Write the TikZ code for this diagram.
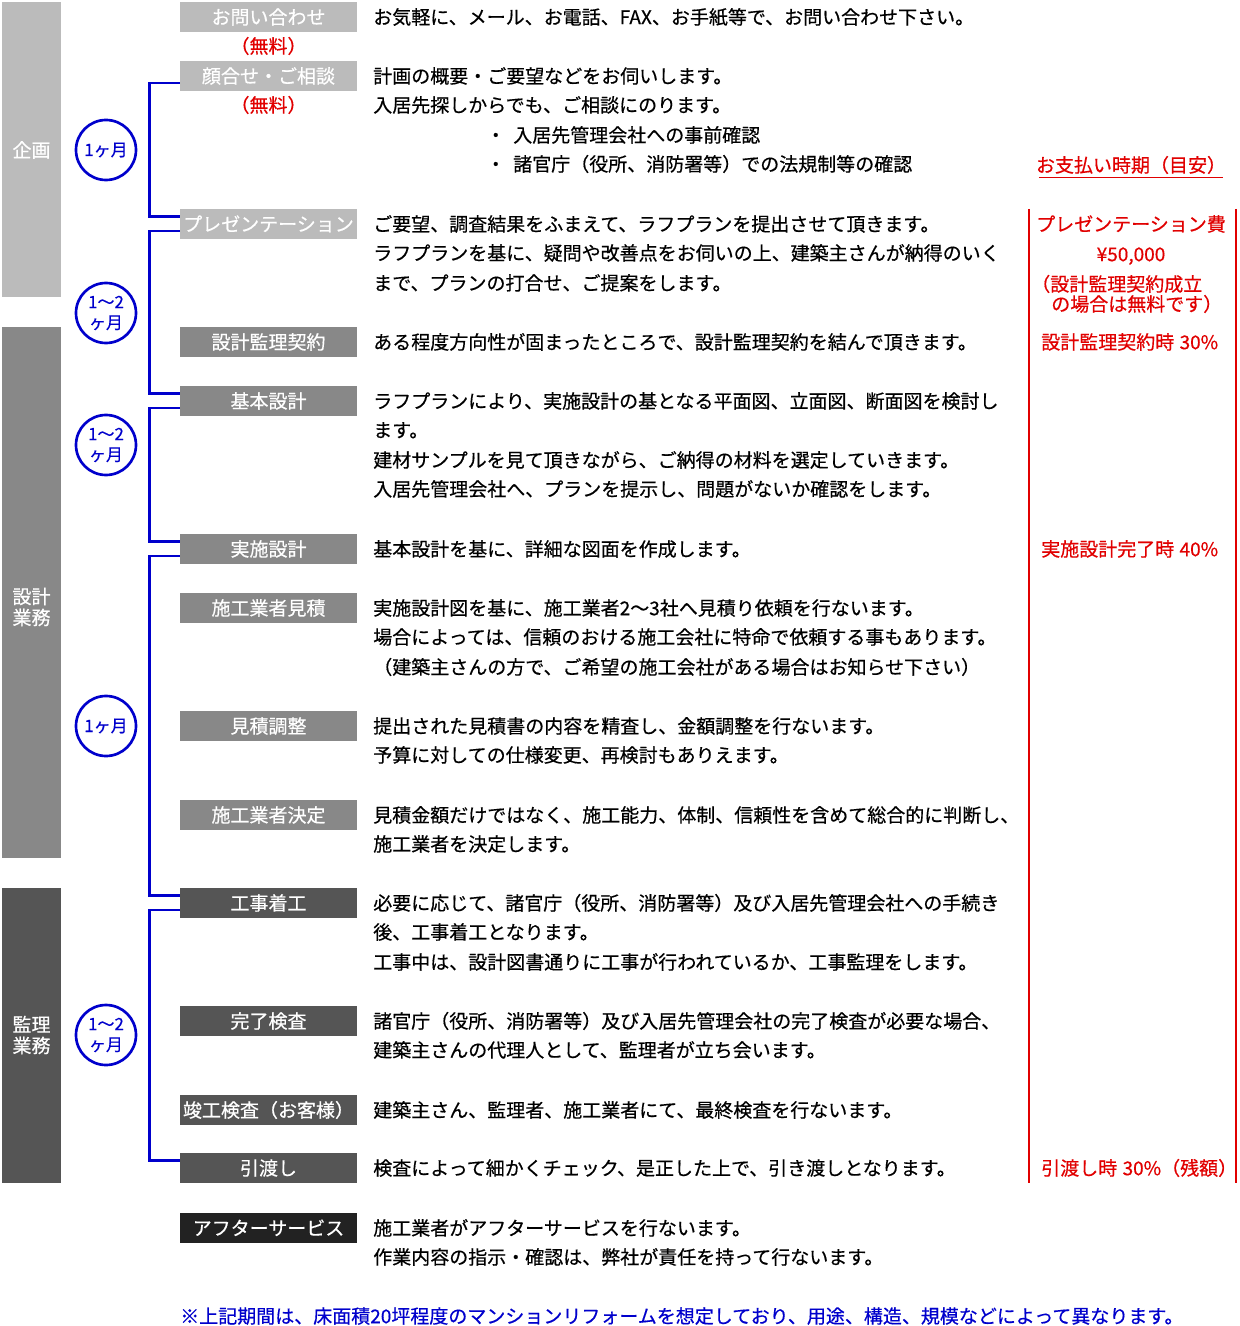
\documentclass[tikz,border=0pt]{standalone}
\usepackage{fontspec}
\setmainfont{Noto Sans CJK JP}[FakeBold=0.5]
\usetikzlibrary{calc}
\definecolor{flowblue}{RGB}{0,0,204}
\definecolor{payred}{RGB}{225,0,0}
\definecolor{greyA}{RGB}{187,187,187}
\definecolor{greyB}{RGB}{136,136,136}
\definecolor{greyC}{RGB}{85,85,85}
\definecolor{greyD}{RGB}{34,34,34}
\newcommand{\bodyfont}{\fontsize{14.25pt}{22pt}\selectfont}
\newcommand{\smallfont}{\fontsize{12.75pt}{15.5pt}\selectfont}

\begin{document}
\begin{tikzpicture}[x=0.75pt,y=-0.75pt,
    stepbox/.style={fill=#1,text=white,font=\bodyfont,minimum width=132.75pt,minimum height=22.5pt,inner sep=0pt,text height=11.7pt,text depth=0.9pt},
    phase/.style={fill=#1,minimum width=44.25pt,inner sep=0pt},
    phasetxt/.style={text=white,font=\fontsize{14.25pt}{15.75pt}\selectfont,align=center,inner sep=0pt},
    period/.style={circle,draw=flowblue,line width=2pt,text=flowblue,font=\smallfont,align=center,minimum size=45pt,inner sep=0pt},
    desc/.style={anchor=west,font=\bodyfont,inner sep=0pt,text height=11.7pt,text depth=0.9pt},
    pay/.style={desc,text=payred},
    bracket/.style={flowblue,line width=1.9pt},
    payline/.style={payred,line width=0.8pt}]
  \path[fill=white] (0,0) rectangle (1239,1326);
  % phases
  \node[phase=greyA,minimum height=221.25pt] (plan) at (31.5,149.5) {};
  \node[phase=greyB,minimum height=398.25pt] (design) at (31.5,592.5) {};
  \node[phase=greyC,minimum height=221.25pt] (super) at (31.5,1035.5) {};
  \node[phasetxt] (planT) at (31.5,150) {企画};
  \node[phasetxt] (designT) at (31.5,607) {設計\\業務};
  \node[phasetxt] (superT) at (31.5,1035) {監理\\業務};
  % periods
  \node[period] (m1) at (106,150) {1ヶ月};
  \node[period] (m2) at (106,313) {1〜2\\ヶ月};
  \node[period] (m3) at (106,445) {1〜2\\ヶ月};
  \node[period] (m4) at (106,726) {1ヶ月};
  \node[period] (m5) at (106,1035) {1〜2\\ヶ月};
  % steps
  \foreach \n/\y/\c/\t in {1/17/greyA/お問い合わせ, 2/76/greyA/顔合せ・ご相談, 3/224/greyA/プレゼンテーション,
      4/342/greyB/設計監理契約, 5/401/greyB/基本設計, 6/549/greyB/実施設計, 7/608/greyB/施工業者見積,
      8/726/greyB/見積調整, 9/815/greyB/施工業者決定, 10/903/greyC/工事着工, 11/1021/greyC/完了検査,
      12/1110/greyC/竣工検査（お客様）, 13/1168/greyC/引渡し, 14/1228/greyD/アフターサービス}
    \node[stepbox=\c] (s\n) at (268.5,\y) {\t};
  \node[pay,anchor=center] (free1) at (268.5,46) {（無料）};
  \node[pay,anchor=center] (free2) at (268.5,105) {（無料）};
  \foreach \a/\b in {2/3,3/5,5/6,6/10,10/13}
    \draw[bracket] ($(s\a.west)+(0,7)$) -- ++(-30,0) |- ($(s\b.west)+(0,-7.5)$);
  % descriptions
  \foreach \y/\t [count=\i] in {17/{お気軽に、メール、お電話、FAX、お手紙等で、お問い合わせ下さい。},
      76/{計画の概要・ご要望などをお伺いします。},
      105/{入居先探しからでも、ご相談にのります。},
      224/{ご要望、調査結果をふまえて、ラフプランを提出させて頂きます。},
      253/{ラフプランを基に、疑問や改善点をお伺いの上、建築主さんが納得のいく},
      283/{まで、プランの打合せ、ご提案をします。},
      342/{ある程度方向性が固まったところで、設計監理契約を結んで頂きます。},
      401/{ラフプランにより、実施設計の基となる平面図、立面図、断面図を検討し},
      430/{ます。},
      460/{建材サンプルを見て頂きながら、ご納得の材料を選定していきます。},
      489/{入居先管理会社へ、プランを提示し、問題がないか確認をします。},
      549/{基本設計を基に、詳細な図面を作成します。},
      608/{実施設計図を基に、施工業者2〜3社へ見積り依頼を行ないます。},
      637/{場合によっては、信頼のおける施工会社に特命で依頼する事もあります。},
      667/{（建築主さんの方で、ご希望の施工会社がある場合はお知らせ下さい）},
      726/{提出された見積書の内容を精査し、金額調整を行ないます。},
      755/{予算に対しての仕様変更、再検討もありえます。},
      815/{見積金額だけではなく、施工能力、体制、信頼性を含めて総合的に判断し、},
      844/{施工業者を決定します。},
      903/{必要に応じて、諸官庁（役所、消防署等）及び入居先管理会社への手続き},
      932/{後、工事着工となります。},
      962/{工事中は、設計図書通りに工事が行われているか、工事監理をします。},
      1021/{諸官庁（役所、消防署等）及び入居先管理会社の完了検査が必要な場合、},
      1050/{建築主さんの代理人として、監理者が立ち会います。},
      1110/{建築主さん、監理者、施工業者にて、最終検査を行ないます。},
      1168/{検査によって細かくチェック、是正した上で、引き渡しとなります。},
      1228/{施工業者がアフターサービスを行ないます。},
      1257/{作業内容の指示・確認は、弊社が責任を持って行ないます。}}
    \node[desc] (d\i) at (373,\y) {\t};
  \node[desc] (b1) at (486,135) {・\kern6pt 入居先管理会社への事前確認};
  \node[desc] (b2) at (486,164) {・\kern6pt 諸官庁（役所、消防署等）での法規制等の確認};
  % payment column
  \coordinate (payTL) at (1029,209);
  \coordinate (payBL) at (1029,1183);
  \coordinate (payTR) at (1236,209);
  \coordinate (payBR) at (1236,1183);
  \draw[payline] (payTL) -- (payBL);
  \draw[payline] (payTR) -- (payBR);
  \node[pay,anchor=center] (payhead) at (1131,165) {お支払い時期（目安）};
  \draw[payline] ($(payhead.south west)+(3,4)$) -- ($(payhead.south east)+(-3,4)$);
  \node[pay,anchor=center] (p1) at (1131,224) {プレゼンテーション費};
  \node[pay,anchor=center] (p2) at (1131,254) {¥50,000};
  \node[pay] (p3) at (1031,284) {（設計監理契約成立};
  \node[pay] (p4) at (1051,304) {の場合は無料です）};
  \node[pay] (p5) at (1041,342) {設計監理契約時\hspace{4pt}30\%};
  \node[pay] (p6) at (1041,549) {実施設計完了時\hspace{4pt}40\%};
  \node[pay] (p7) at (1041,1168) {引渡し時\hspace{4pt}30\%（残額）};
  % note
  \node[desc,text=flowblue] (note) at (180,1316) {※上記期間は、床面積20坪程度のマンションリフォームを想定しており、用途、構造、規模などによって異なります。};
\end{tikzpicture}
\end{document}
